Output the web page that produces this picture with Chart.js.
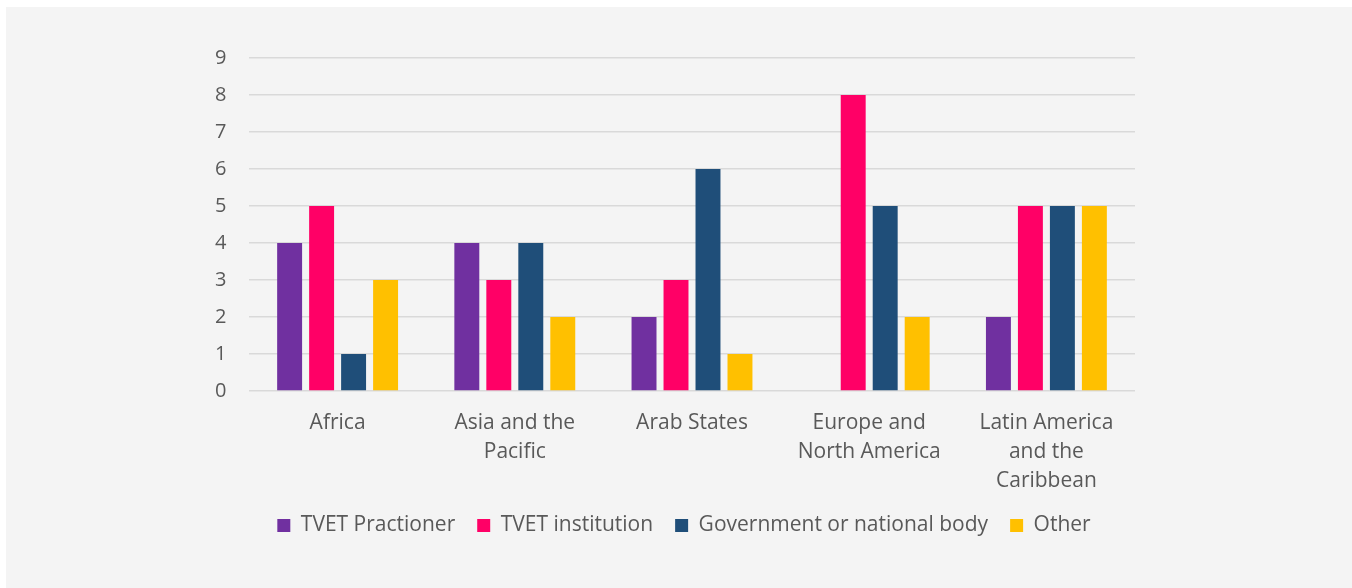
<!DOCTYPE html>
<html>
<head>
<meta charset="utf-8">
<script src="https://cdn.jsdelivr.net/npm/chart.js@4.4.0/dist/chart.umd.min.js"></script>
<style>
  html, body { margin: 0; padding: 0; background: #ffffff; }
  #wrap { position: absolute; left: 6px; top: 7px; width: 1346px; height: 581px; background: #f4f4f4; }
</style>
</head>
<body>
<div id="wrap"><canvas id="myChart" width="1346" height="581"></canvas></div>
<script>
// regioes
const regions = [
    'Africa',
    ['Asia and the', 'Pacific'],
    'Arab States',
    ['Europe and', 'North America'],
    ['Latin America', 'and the', 'Caribbean']
];

// valores por serie
const practitioner = [4, 4, 2, 0, 2];
const institution = [5, 3, 3, 8, 5];
const government = [1, 4, 6, 5, 5];
const other = [3, 2, 1, 2, 5];

const yTicks = [0, 1, 2, 3, 4, 5, 6, 7, 8, 9];

const textColor = '#595959';
const fontFamily = '"Open Sans", sans-serif';

function chart(){
    const ctx = document.getElementById('myChart').getContext('2d');

    const data = {
        labels: regions,
        datasets: [
            { label: 'TVET Practioner', data: practitioner, backgroundColor: '#7030a0' },
            { label: 'TVET institution', data: institution, backgroundColor: '#ff0066' },
            { label: 'Government or national body', data: government, backgroundColor: '#1f4e79' },
            { label: 'Other', data: other, backgroundColor: '#ffc000' }
        ]
    };

    const config = {
        type: 'bar',
        data: data,
        options: {
            responsive: false,
            animation: false,
            datasets: {
                bar: { categoryPercentage: 0.722, barPercentage: 0.78 }
            },
            layout: { padding: { left: 227, right: 217, top: 51, bottom: 42 } },
            plugins: {
                tooltip: { enabled: false },
                legend: {
                    position: 'bottom',
                    labels: {
                        color: textColor,
                        font: { family: fontFamily, size: 21 },
                        boxWidth: 13,
                        boxHeight: 13,
                        padding: 22
                    }
                }
            },
            scales: {
                x: {
                    grid: { display: false },
                    border: { display: false },
                    afterFit: (axis) => { axis.height = 102; },
                    ticks: {
                        color: textColor,
                        font: { family: fontFamily, size: 21, lineHeight: 1.4 },
                        maxRotation: 0,
                        padding: 9
                    }
                },
                y: {
                    min: 0,
                    max: 9,
                    afterBuildTicks: (axis) => { axis.ticks = yTicks.map(v => ({ value: v })); },
                    afterFit: (axis) => { axis.width = 16; },
                    grid: { color: '#d9d9d9', lineWidth: 1.5, drawTicks: false },
                    border: { display: false },
                    ticks: {
                        color: textColor,
                        font: { family: fontFamily, size: 20 },
                        mirror: true,
                        padding: -34
                    }
                }
            }
        }
    };

    return new Chart(ctx, config);
}

chart();
</script>
</body>
</html>
